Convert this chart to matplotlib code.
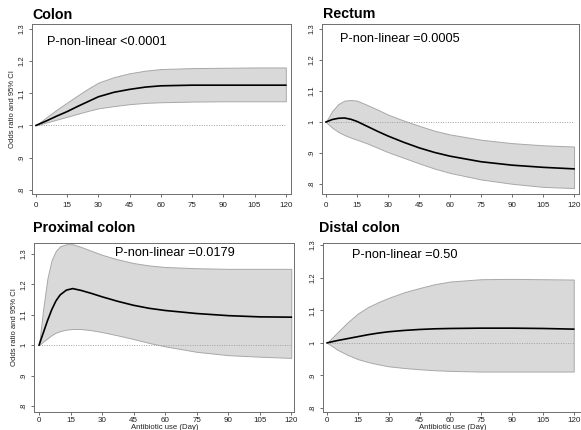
import matplotlib
matplotlib.use("Agg")
import matplotlib.pyplot as plt

plt.rcParams['font.family'] = ['Liberation Sans', 'DejaVu Sans']

W, H = 581, 430

# ---- data ----
colon_days = [0, 5, 10, 15, 20, 25, 30, 37.5, 45, 52.5, 60, 75, 90, 105, 120]
colon_mean = [1.0, 1.014, 1.029, 1.043, 1.059, 1.074, 1.089, 1.103, 1.112, 1.119, 1.123, 1.125, 1.125, 1.125, 1.125]
colon_upper = [1.0, 1.025, 1.049, 1.071, 1.093, 1.114, 1.133, 1.150, 1.162, 1.170, 1.175, 1.178, 1.179, 1.180, 1.180]
colon_lower = [1.0, 1.009, 1.018, 1.027, 1.036, 1.045, 1.053, 1.060, 1.066, 1.070, 1.072, 1.074, 1.075, 1.075, 1.075]

rectum_days = [0, 3, 6, 9, 12, 15, 20, 25, 30, 37.5, 45, 52.5, 60, 75, 90, 105, 120]
rectum_mean = [1.0, 1.008, 1.012, 1.013, 1.009, 1.002, 0.986, 0.970, 0.955, 0.935, 0.917, 0.902, 0.890, 0.872, 0.861, 0.854, 0.849]
rectum_upper = [1.0, 1.035, 1.058, 1.069, 1.071, 1.069, 1.055, 1.040, 1.024, 1.005, 0.988, 0.972, 0.960, 0.943, 0.932, 0.925, 0.921]
rectum_lower = [1.0, 0.982, 0.968, 0.958, 0.950, 0.943, 0.931, 0.917, 0.903, 0.885, 0.867, 0.850, 0.836, 0.815, 0.801, 0.791, 0.787]

prox_days = [0, 2, 4, 6, 8, 10, 13, 16, 20, 25, 30, 37.5, 45, 52.5, 60, 75, 90, 105, 120]
prox_mean = [1.0, 1.040, 1.080, 1.116, 1.145, 1.165, 1.181, 1.186, 1.180, 1.170, 1.159, 1.144, 1.131, 1.121, 1.114, 1.104, 1.097, 1.093, 1.092]
prox_upper = [1.0, 1.120, 1.220, 1.280, 1.310, 1.325, 1.332, 1.332, 1.323, 1.310, 1.297, 1.282, 1.270, 1.262, 1.257, 1.253, 1.251, 1.251, 1.251]
prox_lower = [1.0, 1.012, 1.022, 1.033, 1.041, 1.046, 1.051, 1.053, 1.053, 1.049, 1.043, 1.032, 1.020, 1.007, 0.996, 0.978, 0.967, 0.962, 0.958]

distal_days = [0, 5, 10, 15, 20, 25, 30, 37.5, 45, 52.5, 60, 75, 90, 105, 120]
distal_mean = [1.0, 1.007, 1.013, 1.019, 1.025, 1.030, 1.034, 1.038, 1.041, 1.043, 1.044, 1.045, 1.045, 1.044, 1.042]
distal_upper = [1.0, 1.032, 1.063, 1.090, 1.110, 1.125, 1.138, 1.155, 1.168, 1.180, 1.188, 1.195, 1.196, 1.195, 1.194]
distal_lower = [1.0, 0.979, 0.963, 0.950, 0.941, 0.934, 0.928, 0.923, 0.919, 0.916, 0.914, 0.912, 0.912, 0.912, 0.912]

titles = ["Colon", "Rectum", "Proximal colon", "Distal colon"]
ptexts = ["P-non-linear <0.0001", "P-non-linear =0.0005", "P-non-linear =0.0179", "P-non-linear =0.50"]
xticks = [0, 15, 30, 45, 60, 75, 90, 105, 120]
yticks = [0.8, 0.9, 1.0, 1.1, 1.2, 1.3]
ytick_labels = [".8", ".9", "1", "1.1", "1.2", "1.3"]
ylabel = "Odds ratio and 95% CI"
xlabel = "Antibiotic use (Day)"

fig = plt.figure(figsize=(W / 100, H / 100), dpi=100)
fig.patch.set_facecolor("white")


def add_ax(l, t, r, b):
    return fig.add_axes([l / W, 1 - b / H, (r - l) / W, (b - t) / H])


panels = [
    dict(box=(32, 24, 291, 194), xlim=(-1.9, 122.5), ylim=(0.787, 1.315),
         d=(colon_days, colon_mean, colon_upper, colon_lower),
         title=(32, 19), ptxt=(47, 45), ylab=True, xlab=None, xpad=3),
    dict(box=(322, 24, 579, 194), xlim=(-1.9, 122.4), ylim=(0.768, 1.316),
         d=(rectum_days, rectum_mean, rectum_upper, rectum_lower),
         title=(323, 18), ptxt=(340, 42), ylab=False, xlab=None, xpad=3),
    dict(box=(34, 243, 294, 412), xlim=(-2.4, 121.3), ylim=(0.780, 1.336),
         d=(prox_days, prox_mean, prox_upper, prox_lower),
         title=(33, 232), ptxt=(115, 256), ylab=True, xlab=165, xpad=1),
    dict(box=(323, 243, 584, 412), xlim=(-2.0, 125.0), ylim=(0.788, 1.306),
         d=(distal_days, distal_mean, distal_upper, distal_lower),
         title=(319, 232), ptxt=(352, 258), ylab=False, xlab=453, xpad=1),
]

for i, p in enumerate(panels):
    ax = add_ax(*p["box"])
    days, mean, up, lo = p["d"]
    ax.fill_between(days, lo, up, facecolor="#d9d9d9", edgecolor="#a8a8a8", linewidth=0.7, zorder=1)
    ax.plot([0, 120], [1, 1], color="#a0a0a0", linewidth=0.7, linestyle=(0, (1, 1.5)), zorder=2)
    ax.plot(days, mean, color="black", linewidth=1.2, zorder=3)
    ax.set_xlim(*p["xlim"])
    ax.set_ylim(*p["ylim"])
    ax.set_xticks(xticks)
    ax.set_xticklabels([str(v) for v in xticks], fontsize=5.8, color="#222222")
    ax.set_yticks(yticks)
    ax.set_yticklabels(ytick_labels, fontsize=5.5, rotation=90, va="center", color="#222222")
    ax.tick_params(axis="both", direction="out", length=2.5, width=0.6, color="#555555", pad=2)
    ax.tick_params(axis="x", pad=p["xpad"])
    for s in ax.spines.values():
        s.set_color("#6e6e6e")
        s.set_linewidth(0.7)
    if p["ylab"]:
        ax.set_ylabel(ylabel, fontsize=5.5, color="#222222", labelpad=2)
    if p["xlab"] is not None:
        fig.text(p["xlab"] / W, 1 - 428.6 / H, xlabel, fontsize=5.6, color="#222222",
                 ha="center", va="baseline")
    tx, ty = p["title"]
    fig.text(tx / W, 1 - ty / H, titles[i], fontsize=10.3, fontweight="bold", ha="left", va="baseline")
    px, py = p["ptxt"]
    fig.text(px / W, 1 - py / H, ptexts[i], fontsize=9.2, ha="left", va="baseline")

fig.savefig("out.png", dpi=100, facecolor="white")
